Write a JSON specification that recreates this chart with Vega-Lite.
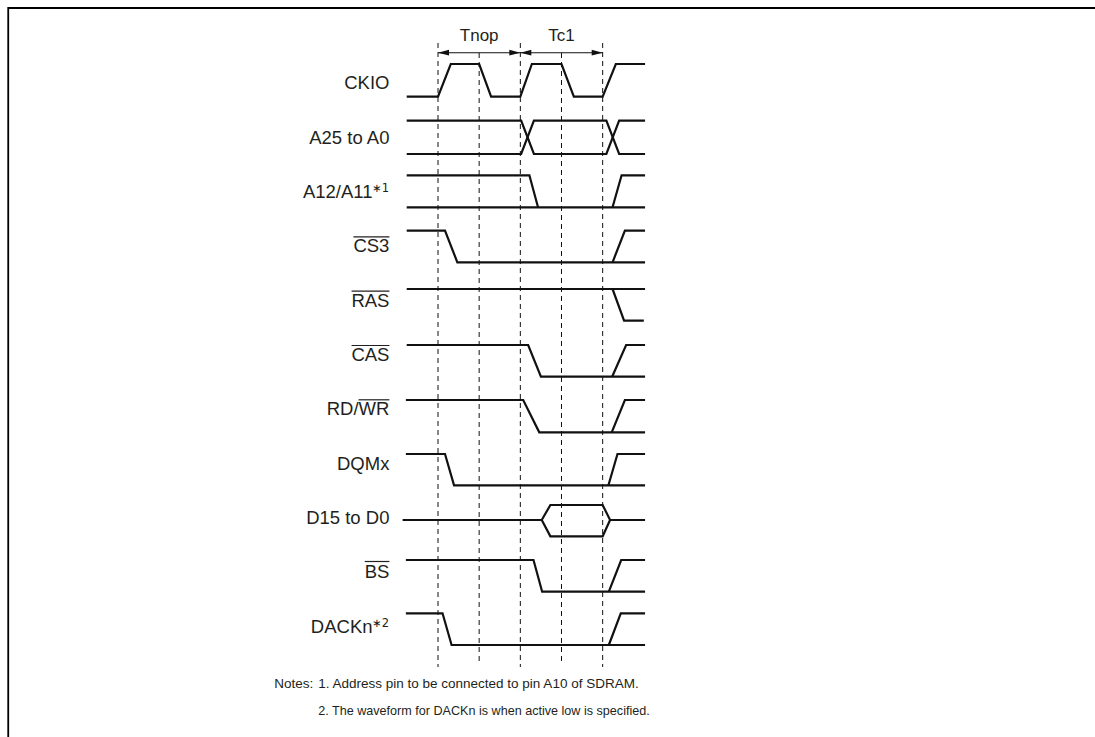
{
  "$schema": "https://vega.github.io/schema/vega-lite/v6.json",
  "width": 1095,
  "height": 737,
  "autosize": {"type": "none"},
  "padding": 0,
  "background": "white",
  "view": {"stroke": null},
  "config": {"font": "Liberation Sans"},
  "datasets": {
    "frame": [
      {"s": "f", "o": 1, "t": -10.44, "y": 737},
      {"s": "f", "o": 2, "t": -10.44, "y": 8},
      {"s": "f", "o": 3, "t": 15.96, "y": 8}
    ],
    "grid": [
      {"t": 0, "y": 43, "y2": 667},
      {"t": 1, "y": 53, "y2": 665},
      {"t": 2, "y": 43, "y2": 667},
      {"t": 3, "y": 53, "y2": 665},
      {"t": 4, "y": 43, "y2": 667}
    ],
    "arrows": [
      {"t": 0, "t2": 2, "y": 52.7},
      {"t": 2, "t2": 4, "y": 52.7}
    ],
    "headsR": [
      {"t": 2, "y": 52.7},
      {"t": 4, "y": 52.7}
    ],
    "headsL": [
      {"t": 0, "y": 52.7},
      {"t": 2, "y": 52.7}
    ],
    "periods": [
      {"t": 1, "y": 41, "label": "Tnop"},
      {"t": 3, "y": 41, "label": "Tc1"}
    ],
    "waves": [
      {"s": "ck", "o": 1, "t": -0.76, "y": 96.7},
      {"s": "ck", "o": 2, "t": 0, "y": 96.7},
      {"s": "ck", "o": 3, "t": 0.31, "y": 64},
      {"s": "ck", "o": 4, "t": 1, "y": 64},
      {"s": "ck", "o": 5, "t": 1.29, "y": 96.7},
      {"s": "ck", "o": 6, "t": 2, "y": 96.7},
      {"s": "ck", "o": 7, "t": 2.28, "y": 64},
      {"s": "ck", "o": 8, "t": 3, "y": 64},
      {"s": "ck", "o": 9, "t": 3.3, "y": 96.7},
      {"s": "ck", "o": 10, "t": 4, "y": 96.7},
      {"s": "ck", "o": 11, "t": 4.32, "y": 64},
      {"s": "ck", "o": 12, "t": 5.03, "y": 64},

      {"s": "at", "o": 1, "t": -0.76, "y": 120.7},
      {"s": "at", "o": 2, "t": 2.02, "y": 120.7},
      {"s": "at", "o": 3, "t": 2.33, "y": 154},
      {"s": "at", "o": 4, "t": 4.09, "y": 154},
      {"s": "at", "o": 5, "t": 4.4, "y": 120.7},
      {"s": "at", "o": 6, "t": 5.03, "y": 120.7},
      {"s": "ab", "o": 1, "t": -0.76, "y": 154},
      {"s": "ab", "o": 2, "t": 2.02, "y": 154},
      {"s": "ab", "o": 3, "t": 2.33, "y": 120.7},
      {"s": "ab", "o": 4, "t": 4.09, "y": 120.7},
      {"s": "ab", "o": 5, "t": 4.4, "y": 154},
      {"s": "ab", "o": 6, "t": 5.03, "y": 154},

      {"s": "a12a", "o": 1, "t": -0.76, "y": 175.3},
      {"s": "a12a", "o": 2, "t": 2.22, "y": 175.3},
      {"s": "a12a", "o": 3, "t": 2.43, "y": 207.3},
      {"s": "a12b", "o": 1, "t": -0.76, "y": 207.3},
      {"s": "a12b", "o": 2, "t": 5.03, "y": 207.3},
      {"s": "a12c", "o": 1, "t": 4.24, "y": 207.3},
      {"s": "a12c", "o": 2, "t": 4.46, "y": 175.3},
      {"s": "a12c", "o": 3, "t": 5.03, "y": 175.3},

      {"s": "csa", "o": 1, "t": -0.76, "y": 230.7},
      {"s": "csa", "o": 2, "t": 0.17, "y": 230.7},
      {"s": "csa", "o": 3, "t": 0.47, "y": 262.3},
      {"s": "csa", "o": 4, "t": 5.03, "y": 262.3},
      {"s": "csb", "o": 1, "t": 4.24, "y": 262.3},
      {"s": "csb", "o": 2, "t": 4.54, "y": 230.7},
      {"s": "csb", "o": 3, "t": 5.03, "y": 230.7},

      {"s": "rasa", "o": 1, "t": -0.76, "y": 289},
      {"s": "rasa", "o": 2, "t": 5.03, "y": 289},
      {"s": "rasb", "o": 1, "t": 4.24, "y": 289},
      {"s": "rasb", "o": 2, "t": 4.52, "y": 320.7},
      {"s": "rasb", "o": 3, "t": 5.0, "y": 320.7},

      {"s": "casa", "o": 1, "t": -0.76, "y": 345},
      {"s": "casa", "o": 2, "t": 2.19, "y": 345},
      {"s": "casa", "o": 3, "t": 2.5, "y": 376.7},
      {"s": "casa", "o": 4, "t": 5.03, "y": 376.7},
      {"s": "casb", "o": 1, "t": 4.23, "y": 376.7},
      {"s": "casb", "o": 2, "t": 4.57, "y": 345},
      {"s": "casb", "o": 3, "t": 5.03, "y": 345},

      {"s": "rda", "o": 1, "t": -0.78, "y": 400},
      {"s": "rda", "o": 2, "t": 2.07, "y": 400},
      {"s": "rda", "o": 3, "t": 2.46, "y": 432.3},
      {"s": "rda", "o": 4, "t": 5.03, "y": 432.3},
      {"s": "rdb", "o": 1, "t": 4.22, "y": 432.3},
      {"s": "rdb", "o": 2, "t": 4.54, "y": 400},
      {"s": "rdb", "o": 3, "t": 5.03, "y": 400},

      {"s": "dqa", "o": 1, "t": -0.78, "y": 454},
      {"s": "dqa", "o": 2, "t": 0.17, "y": 454},
      {"s": "dqa", "o": 3, "t": 0.39, "y": 485.3},
      {"s": "dqa", "o": 4, "t": 5.03, "y": 485.3},
      {"s": "dqb", "o": 1, "t": 4.14, "y": 485.3},
      {"s": "dqb", "o": 2, "t": 4.36, "y": 454},
      {"s": "dqb", "o": 3, "t": 5.03, "y": 454},

      {"s": "da", "o": 1, "t": -0.86, "y": 520},
      {"s": "da", "o": 2, "t": 2.52, "y": 520},
      {"s": "da", "o": 3, "t": 2.73, "y": 505},
      {"s": "da", "o": 4, "t": 4.0, "y": 505},
      {"s": "da", "o": 5, "t": 4.18, "y": 520},
      {"s": "da", "o": 6, "t": 5.03, "y": 520},
      {"s": "db", "o": 1, "t": 2.52, "y": 520},
      {"s": "db", "o": 2, "t": 2.73, "y": 536.3},
      {"s": "db", "o": 3, "t": 4.0, "y": 536.3},
      {"s": "db", "o": 4, "t": 4.18, "y": 520},

      {"s": "bsa", "o": 1, "t": -0.78, "y": 560},
      {"s": "bsa", "o": 2, "t": 2.32, "y": 560},
      {"s": "bsa", "o": 3, "t": 2.53, "y": 591.7},
      {"s": "bsa", "o": 4, "t": 5.03, "y": 591.7},
      {"s": "bsb", "o": 1, "t": 4.15, "y": 591.7},
      {"s": "bsb", "o": 2, "t": 4.45, "y": 560},
      {"s": "bsb", "o": 3, "t": 5.03, "y": 560},

      {"s": "dka", "o": 1, "t": -0.78, "y": 613.3},
      {"s": "dka", "o": 2, "t": 0.11, "y": 613.3},
      {"s": "dka", "o": 3, "t": 0.33, "y": 645},
      {"s": "dka", "o": 4, "t": 5.03, "y": 645},
      {"s": "dkb", "o": 1, "t": 4.15, "y": 645},
      {"s": "dkb", "o": 2, "t": 4.44, "y": 613.3},
      {"s": "dkb", "o": 3, "t": 5.03, "y": 613.3}
    ],
    "labels": [
      {"t": -1.18, "y": 89.3, "label": "CKIO"},
      {"t": -1.18, "y": 143.6, "label": "A25 to A0"},
      {"t": -1.59, "y": 198.0, "label": "A12/A11"},
      {"t": -1.18, "y": 252.3, "label": "CS3"},
      {"t": -1.18, "y": 306.7, "label": "RAS"},
      {"t": -1.18, "y": 361.0, "label": "CAS"},
      {"t": -1.18, "y": 415.3, "label": "RD/WR"},
      {"t": -1.18, "y": 469.7, "label": "DQMx"},
      {"t": -1.18, "y": 524.0, "label": "D15 to D0"},
      {"t": -1.18, "y": 577.5, "label": "BS"},
      {"t": -1.59, "y": 632.7, "label": "DACKn"}
    ],
    "sups": [
      {"t": -1.6, "y": 192, "label": "∗1"},
      {"t": -1.6, "y": 626.7, "label": "∗2"}
    ],
    "overlines": [
      {"t": -2.055, "t2": -1.18, "y": 236.8},
      {"t": -2.10, "t2": -1.18, "y": 291.2},
      {"t": -2.10, "t2": -1.18, "y": 345.5},
      {"t": -1.93, "t2": -1.18, "y": 399.8},
      {"t": -1.78, "t2": -1.18, "y": 561.5}
    ],
    "notes1": [
      {"t": -3.98, "y": 688, "label": "Notes:"},
      {"t": -2.91, "y": 688, "label": "1. Address pin to be connected to pin A10 of SDRAM."}
    ],
    "notes2": [
      {"t": -2.91, "y": 715, "label": "2. The waveform for DACKn is when active low is specified."}
    ]
  },
  "encoding": {
    "x": {"field": "t", "type": "quantitative", "scale": {"domain": [-10.64, 15.96], "nice": false, "zero": false}, "axis": null},
    "y": {"field": "y", "type": "quantitative", "scale": {"domain": [0, 737], "nice": false, "zero": false, "reverse": true}, "axis": null}
  },
  "layer": [
    {
      "data": {"name": "frame"},
      "mark": {"type": "line", "color": "#000000", "strokeWidth": 1.8},
      "encoding": {"detail": {"field": "s"}, "order": {"field": "o", "type": "quantitative"}}
    },
    {
      "data": {"name": "grid"},
      "mark": {"type": "rule", "color": "#111111", "strokeWidth": 1, "strokeDash": [5, 4]},
      "encoding": {"y2": {"field": "y2"}}
    },
    {
      "data": {"name": "arrows"},
      "mark": {"type": "rule", "color": "#111111", "strokeWidth": 1.1},
      "encoding": {"x2": {"field": "t2"}}
    },
    {
      "data": {"name": "headsR"},
      "mark": {"type": "point", "shape": "M0,0L-1,-0.26L-1,0.26Z", "size": 484, "filled": true, "color": "#111111", "opacity": 1, "strokeWidth": 0}
    },
    {
      "data": {"name": "headsL"},
      "mark": {"type": "point", "shape": "M0,0L1,-0.26L1,0.26Z", "size": 484, "filled": true, "color": "#111111", "opacity": 1, "strokeWidth": 0}
    },
    {
      "data": {"name": "waves"},
      "mark": {"type": "line", "color": "#111111", "strokeWidth": 2.2},
      "encoding": {"detail": {"field": "s"}, "order": {"field": "o", "type": "quantitative"}}
    },
    {
      "data": {"name": "periods"},
      "mark": {"type": "text", "align": "center", "baseline": "alphabetic", "fontSize": 17, "fill": "#231f20"},
      "encoding": {"text": {"field": "label"}}
    },
    {
      "data": {"name": "labels"},
      "mark": {"type": "text", "align": "right", "baseline": "alphabetic", "fontSize": 18.5, "fill": "#231f20"},
      "encoding": {"text": {"field": "label"}}
    },
    {
      "data": {"name": "sups"},
      "mark": {"type": "text", "align": "left", "baseline": "alphabetic", "fontSize": 11.5, "fill": "#231f20", "font": "DejaVu Sans"},
      "encoding": {"text": {"field": "label"}}
    },
    {
      "data": {"name": "overlines"},
      "mark": {"type": "rule", "color": "#231f20", "strokeWidth": 1.2},
      "encoding": {"x2": {"field": "t2"}}
    },
    {
      "data": {"name": "notes1"},
      "mark": {"type": "text", "align": "left", "baseline": "alphabetic", "fontSize": 13.5, "fill": "#231f20"},
      "encoding": {"text": {"field": "label"}}
    },
    {
      "data": {"name": "notes2"},
      "mark": {"type": "text", "align": "left", "baseline": "alphabetic", "fontSize": 12.6, "fill": "#231f20"},
      "encoding": {"text": {"field": "label"}}
    }
  ]
}
